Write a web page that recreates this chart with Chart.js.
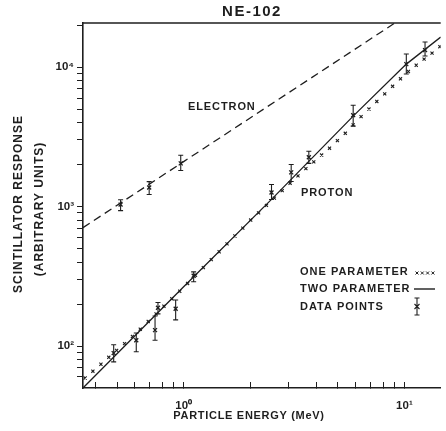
<!DOCTYPE html>
<html>
<head>
<meta charset="utf-8">
<script src="https://cdn.jsdelivr.net/npm/chart.js@4/dist/chart.umd.min.js"></script>
<style>
  html, body { margin: 0; padding: 0; background: #fff; }
</style>
</head>
<body>
<canvas id="ne102" width="446" height="431"></canvas>
<script>
// NE-102 scintillator response vs particle energy, log-log

// electron response, dashed line
const electronLineE = [0.35, 1.0, 3.0, 9.22];
const electronLineL = [706, 2100, 6570, 21100];

// measured electron points with error bars
const electronE = [0.518, 0.698, 0.97];
const electronL = [1033, 1370, 2040];
const electronLo = [935, 1220, 1815];
const electronHi = [1120, 1510, 2330];

// proton, two parameter fit (solid line)
const twoParamE = [0.35, 1.0, 2.52, 5.86, 10.2, 14.6];
const twoParamL = [50, 266, 1140, 4450, 10500, 16400];

// proton, one parameter fit (small crosses)
const oneParamE = [0.358, 0.388, 0.422, 0.458, 0.497, 0.540, 0.586, 0.636, 0.691, 0.750,
  0.814, 0.884, 0.960, 1.042, 1.131, 1.228, 1.334, 1.448, 1.572, 1.707,
  1.853, 2.012, 2.185, 2.371, 2.575, 2.795, 3.035, 3.295, 3.578, 3.885,
  4.217, 4.579, 4.972, 5.397, 5.860, 6.363, 6.908, 7.499, 8.142, 8.840,
  9.597, 10.42, 11.31, 12.28, 13.34, 14.48];
const oneParamL = [59, 66, 74, 83, 93, 104, 117, 132, 150, 170,
  193, 218, 247, 281, 321, 365, 416, 474, 540, 615,
  700, 800, 900, 1020, 1150, 1300, 1470, 1660, 1870, 2090,
  2340, 2620, 2970, 3350, 3850, 4410, 5000, 5670, 6420, 7280,
  8240, 9290, 10300, 11400, 12600, 14000];

// measured proton points with error bars
const protonE = [0.482, 0.61, 0.742, 0.765, 0.92, 1.11, 2.5, 3.07, 3.69, 5.86, 10.2, 12.4];
const protonL = [89, 110, 130, 188, 185, 319, 1262, 1758, 2255, 4520, 10500, 13240];
const protonLo = [77, 91, 110, 170, 154, 289, 1124, 1513, 2040, 3770, 8910, 12000];
const protonHi = [102, 124, 164, 205, 214, 340, 1440, 2004, 2490, 5330, 12400, 15140];

// axis ticks
const xTicks = [0.4, 0.5, 0.6, 0.7, 0.8, 0.9, 1, 2, 3, 4, 5, 6, 7, 8, 9, 10];
const xMajor = [1, 10];
const xMajorLabels = ['10\u2070', '10\u00b9'];
const yTicks = [60, 70, 80, 90, 100, 200, 300, 400, 500, 600, 700, 800, 900,
  1000, 2000, 3000, 4000, 5000, 6000, 7000, 8000, 9000, 10000, 20000];
const yMajor = [100, 1000, 10000];
const yMajorLabels = ['10\u00b2', '10\u00b3', '10\u2074'];

const INK = '#1e1e1e';
const FONT = '"Liberation Sans", Arial, sans-serif';

const pts = (xs, ys) => xs.map((x, i) => ({ x: x, y: ys[i] }));

function text(ctx, s, x, y, size, align, spacing) {
  ctx.font = 'bold ' + size + 'px ' + FONT;
  ctx.letterSpacing = (spacing || 0) + 'px';
  ctx.textAlign = align;
  ctx.textBaseline = 'middle';
  ctx.fillStyle = INK;
  ctx.fillText(s, x, y);
}

// error bars, frame line on top, labels and the little legend
const decor = {
  id: 'decor',
  afterDatasetsDraw(chart) {
    const ctx = chart.ctx;
    const xs = chart.scales.x, ys = chart.scales.y;
    ctx.save();
    ctx.strokeStyle = INK;
    ctx.lineWidth = 1.1;
    chart.data.datasets.forEach(ds => {
      if (!ds.errLo) return;
      ds.data.forEach((p, i) => {
        const px = xs.getPixelForValue(p.x);
        const y1 = ys.getPixelForValue(ds.errLo[i]);
        const y2 = ys.getPixelForValue(ds.errHi[i]);
        ctx.beginPath();
        ctx.moveTo(px, y1); ctx.lineTo(px, y2);
        ctx.moveTo(px - 2.5, y1); ctx.lineTo(px + 2.5, y1);
        ctx.moveTo(px - 2.5, y2); ctx.lineTo(px + 2.5, y2);
        ctx.stroke();
      });
    });
    ctx.restore();
  },
  afterDraw(chart) {
    const ctx = chart.ctx;
    const a = chart.chartArea;
    ctx.save();
    // top frame line
    ctx.strokeStyle = INK;
    ctx.lineWidth = 1.6;
    ctx.beginPath();
    ctx.moveTo(a.left, a.top);
    ctx.lineTo(a.right, a.top);
    ctx.stroke();

    text(ctx, 'NE-102', 252, 12, 15, 'center', 1.5);
    text(ctx, 'ELECTRON', 188, 107, 11, 'left', 0.9);
    text(ctx, 'PROTON', 301, 193, 11, 'left', 0.9);
    text(ctx, 'PARTICLE ENERGY (MeV)', 249, 416, 11, 'center', 0.7);

    ctx.save();
    ctx.translate(19, 204);
    ctx.rotate(-Math.PI / 2);
    text(ctx, 'SCINTILLATOR RESPONSE', 0, 0, 12, 'center', 1);
    ctx.restore();
    ctx.save();
    ctx.translate(40, 209);
    ctx.rotate(-Math.PI / 2);
    text(ctx, '(ARBITRARY UNITS)', 0, 0, 12, 'center', 1);
    ctx.restore();

    // legend
    text(ctx, 'ONE PARAMETER', 300, 272, 11, 'left', 1);
    text(ctx, 'TWO PARAMETER', 300, 289, 11, 'left', 1);
    text(ctx, 'DATA POINTS', 300, 307, 11, 'left', 1);
    ctx.strokeStyle = INK;
    ctx.lineWidth = 1;
    ctx.beginPath();
    for (let k = 0; k < 4; k++) {
      const cx = 417 + k * 5.3, cy = 273;
      ctx.moveTo(cx - 1.5, cy - 1.5); ctx.lineTo(cx + 1.5, cy + 1.5);
      ctx.moveTo(cx + 1.5, cy - 1.5); ctx.lineTo(cx - 1.5, cy + 1.5);
    }
    ctx.stroke();
    ctx.lineWidth = 1.4;
    ctx.beginPath();
    ctx.moveTo(414, 289); ctx.lineTo(435, 289);
    ctx.stroke();
    ctx.lineWidth = 1.1;
    ctx.beginPath();
    ctx.moveTo(417, 298); ctx.lineTo(417, 315);
    ctx.moveTo(414.5, 298); ctx.lineTo(419.5, 298);
    ctx.moveTo(414.5, 315); ctx.lineTo(419.5, 315);
    ctx.moveTo(414.5, 304); ctx.lineTo(419.5, 309);
    ctx.moveTo(419.5, 304); ctx.lineTo(414.5, 309);
    ctx.stroke();
    ctx.restore();
  }
};

const tickFont = { family: FONT, size: 11.5, weight: 'bold' };

new Chart(document.getElementById('ne102'), {
  type: 'scatter',
  data: {
    datasets: [
      {
        label: 'two parameter',
        data: pts(twoParamE, twoParamL),
        showLine: true,
        borderColor: INK,
        borderWidth: 1.3,
        pointRadius: 0,
        tension: 0,
        clip: 0
      },
      {
        label: 'electron',
        data: pts(electronLineE, electronLineL),
        showLine: true,
        borderColor: INK,
        borderWidth: 1.3,
        borderDash: [8, 5],
        pointRadius: 0,
        tension: 0,
        clip: 0
      },
      {
        label: 'one parameter',
        data: pts(oneParamE, oneParamL),
        showLine: false,
        pointStyle: 'crossRot',
        pointRadius: 2.2,
        borderColor: INK,
        borderWidth: 1.1
      },
      {
        label: 'proton data',
        data: pts(protonE, protonL),
        errLo: protonLo,
        errHi: protonHi,
        showLine: false,
        pointStyle: 'crossRot',
        pointRadius: 2.8,
        borderColor: INK,
        borderWidth: 1.3
      },
      {
        label: 'electron data',
        data: pts(electronE, electronL),
        errLo: electronLo,
        errHi: electronHi,
        showLine: false,
        pointStyle: 'crossRot',
        pointRadius: 2.8,
        borderColor: INK,
        borderWidth: 1.3
      }
    ]
  },
  options: {
    responsive: false,
    animation: false,
    devicePixelRatio: 1,
    layout: { padding: { top: 23, left: 0, right: 0, bottom: 0 } },
    plugins: {
      legend: { display: false },
      tooltip: { enabled: false }
    },
    scales: {
      x: {
        type: 'logarithmic',
        position: 'bottom',
        min: 0.35,
        max: 14.6,
        grid: { drawOnChartArea: false, drawTicks: true, tickLength: -6, color: INK, lineWidth: 1 },
        border: { display: true, color: INK, width: 1.6 },
        ticks: {
          autoSkip: false,
          maxRotation: 0,
          padding: 17,
          color: INK,
          font: tickFont,
          callback: v => {
            const i = xMajor.indexOf(v);
            return i < 0 ? '' : xMajorLabels[i];
          }
        },
        afterBuildTicks: s => { s.ticks = xTicks.map(v => ({ value: v })); },
        afterFit: s => { s.height = 43; }
      },
      y: {
        type: 'logarithmic',
        position: 'left',
        min: 50,
        max: 20700,
        grid: { drawOnChartArea: false, drawTicks: true, tickLength: 6, color: INK, lineWidth: 1 },
        border: { display: true, color: INK, width: 1.6 },
        ticks: {
          autoSkip: false,
          padding: 3,
          color: INK,
          font: tickFont,
          callback: v => {
            const i = yMajor.indexOf(v);
            return i < 0 ? '' : yMajorLabels[i];
          }
        },
        afterBuildTicks: s => { s.ticks = yTicks.map(v => ({ value: v })); },
        afterFit: s => { s.width = 83; }
      }
    }
  },
  plugins: [decor]
});
</script>
</body>
</html>
